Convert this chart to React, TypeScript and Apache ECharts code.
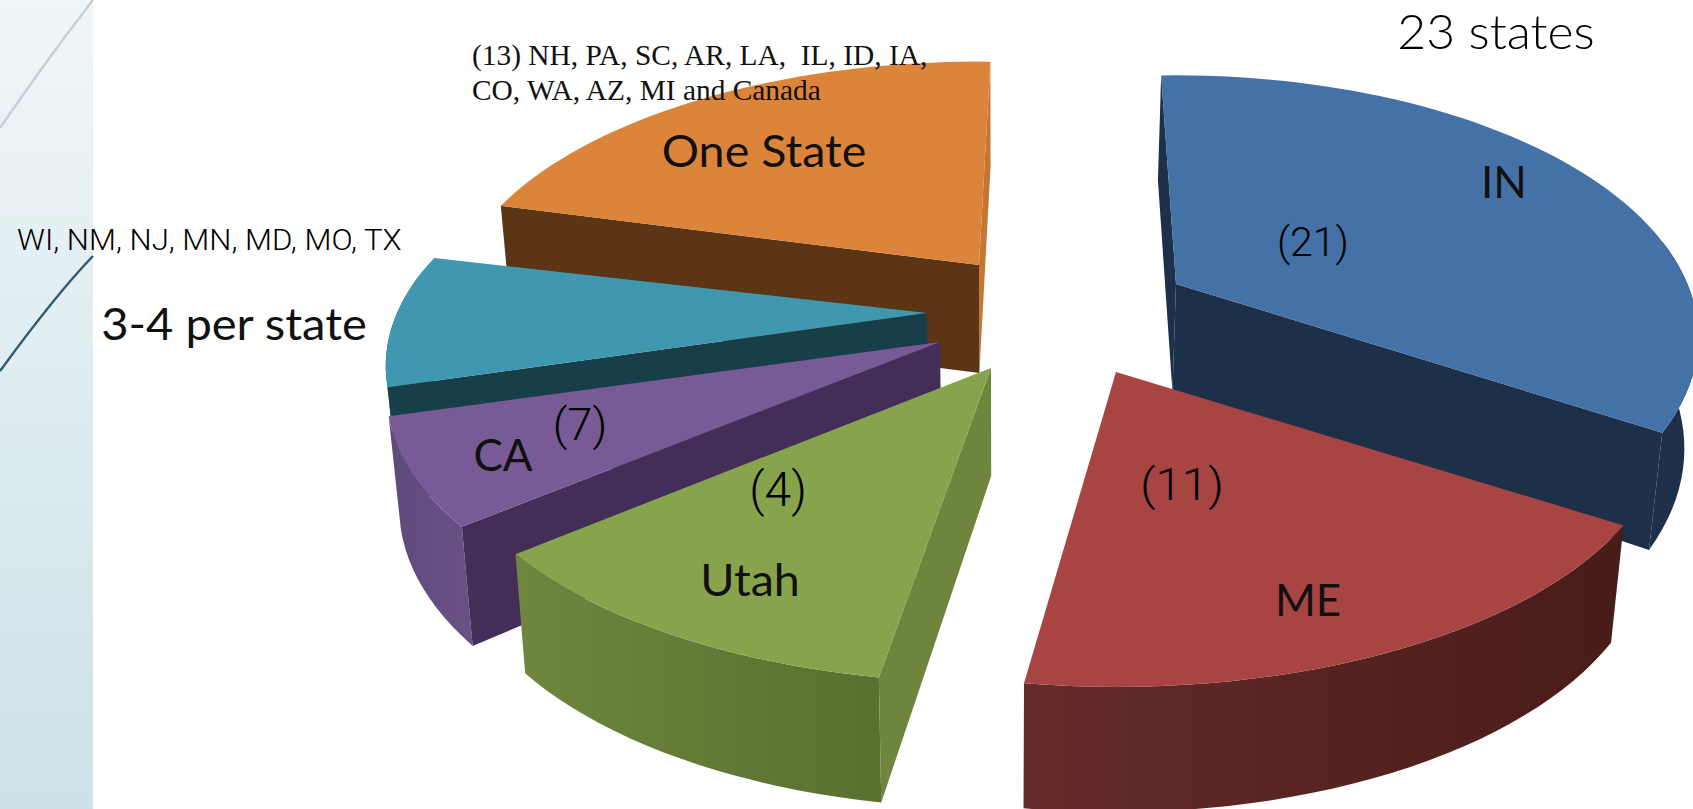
import React, { useEffect, useRef } from "react";
import * as echarts from "echarts";

// Data: slice sizes
const sliceNames = ["IN", "ME", "Utah", "CA", "3-4 per state", "One State"];
const sliceValues = [21, 11, 7, 4, 5, 13];
const drawOrder = [5, 0, 4, 3, 1, 2];

// Styles and layout of the exploded slices
const apexes = [[1176, 284], [1116, 372], [991, 368], [940, 342], [927, 313], [979, 265]];
const angleNudge = [-2, -1, 0.7, 0, 0, 1.5];
const sweepNudge = [0, 0, -1, 0, 0, 0];
const stretchX = [0.965, 1.015, 1.02, 1.022, 1, 0.98];
const stretchY = [1, 1, 1, 1, 1, 0.97];
const topColors = ["#4471a6", "#a84543", "#87a44c", "#775a96", "#3f97b0", "#dd843b"];
const startColors = ["#1c304a", "#4a1c19", "#6d853d", "#432e5a", "#173f4a", "#5c3515"];
const endColors = ["#1c304a", "#4a1c19", "#5b6f32", "#4a3563", "#173f4a", "#c47632"];
const rimLeft = ["#1c304a", "#652b2a", "#6e863d", "#5f4a7c", "#2a6a7c", "#5c3515"];
const rimRight = ["#1c304a", "#481c18", "#59702f", "#6a5185", "#2a6a7c", "#5c3515"];

const R = 530;
const RT = 251;
const K = 0.203;
const DEPTH = 108;
const CENTER_X = 1000;
const START_ANGLE = -90;
const total = sliceValues.reduce((a, b) => a + b, 0);

function project(i: number, deg: number, r: number) {
  const a = (deg * Math.PI) / 180;
  const u = r * Math.cos(a) * stretchX[i];
  const v = r * Math.sin(a) * stretchY[i];
  const s = 1 / (1 - K * v);
  return { x: apexes[i][0] + R * u * s, y: apexes[i][1] + RT * v * s, v };
}
function lower(p: { x: number; y: number; v: number }) {
  const grow = p.v > 0 ? 0.16 * p.v : 0.03 * p.v;
  return [p.x + (CENTER_X - p.x) * 0.02, p.y + DEPTH * (1 + grow)];
}
function arc(i: number, a0: number, a1: number) {
  const out: any[] = [];
  const n = Math.max(2, Math.ceil(Math.abs(a1 - a0) / 2));
  for (let k = 0; k <= n; k++) out.push(project(i, a0 + ((a1 - a0) * k) / n, 1));
  return out;
}

function renderSlice(_: any, api: any) {
  const i = api.value(0);
  let before = 0;
  for (let j = 0; j < i; j++) before += sliceValues[j];
  const a0 = START_ANGLE + (before / total) * 360 + angleNudge[i];
  const a1 = a0 + (sliceValues[i] / total) * 360 + sweepNudge[i];
  const centre = project(i, 0, 0);
  const children: any[] = [];
  const poly = (points: number[][], fill: any) =>
    children.push({ type: "polygon", shape: { points }, style: { fill, stroke: null } });

  // outer rim
  const r0 = Math.max(a0, -10);
  const r1 = Math.min(a1, 190);
  if (r1 > r0) {
    const top = arc(i, r0, r1);
    const pts = top.map((p) => [p.x, p.y]).concat(top.slice().reverse().map(lower));
    poly(pts, new echarts.graphic.LinearGradient(0, 0, 1, 0, [
      { offset: 0, color: rimLeft[i] },
      { offset: 1, color: rimRight[i] },
    ]));
  }
  // cut faces
  const face = (deg: number, color: string) => {
    const e = project(i, deg, 1);
    poly([[centre.x, centre.y], [e.x, e.y], lower(e), lower(centre)], color);
  };
  if (Math.cos((a1 * Math.PI) / 180) > -0.05) face(a1, endColors[i]);
  if (Math.cos((a0 * Math.PI) / 180) < 0.05) face(a0, startColors[i]);
  // top
  const rimTop = arc(i, a0, a1).map((p) => [p.x, p.y]);
  poly([[centre.x, centre.y], ...rimTop], topColors[i]);
  return { type: "group", children };
}

const thin = "Roboto, 'Liberation Sans', sans-serif";
const chartFont = "Lato, 'Noto Sans', sans-serif";
const serif = "'Liberation Serif', serif";
const label = (text: string, x: number, y: number, size: number, font: string, extra: any = {}, scaleX = 1) => ({
  type: "text",
  x,
  y,
  scaleX,
  z: 100,
  silent: true,
  style: { text, fontSize: size, fontFamily: font, fill: "#111", textAlign: "center", textVerticalAlign: "middle", ...extra },
});
const light = { fontWeight: 300, fill: "#000" };

export default function App() {
  const ref = useRef<HTMLDivElement>(null);
  useEffect(() => {
    document.body.style.margin = "0";
    document.body.style.background = "#fff";
    const chart = echarts.init(ref.current!, null, { renderer: "svg" });
    chart.setOption({
      animation: false,
      backgroundColor: "#ffffff",
      graphic: {
        elements: [
          {
            type: "rect",
            z: -1,
            silent: true,
            shape: { x: 0, y: 0, width: 93, height: 809 },
            style: {
              fill: new echarts.graphic.LinearGradient(0, 0, 0, 1, [
                { offset: 0, color: "#eff6f8" },
                { offset: 1, color: "#cce1e8" },
              ]),
            },
          },
          {
            type: "bezierCurve",
            z: -1,
            silent: true,
            shape: { x1: 93, y1: 0, x2: 0, y2: 128, cpx1: 62, cpy1: 40, cpx2: 30, cpy2: 84 },
            style: { stroke: "#c3d3d9", lineWidth: 2.5, fill: null },
          },
          {
            type: "bezierCurve",
            z: -1,
            silent: true,
            shape: { x1: 93, y1: 256, x2: 0, y2: 371, cpx1: 62, cpy1: 288, cpx2: 30, cpy2: 330 },
            style: { stroke: "#2f5a72", lineWidth: 2.5, fill: null },
          },
          label("23 states", 1496, 31, 47, "Lato, sans-serif", light, 1.06),
          label("(21)", 1313, 242, 41, thin, light),
          label("(11)", 1182, 484, 45, thin, light, 1.06),
          label("(7)", 580, 425, 44, thin, light, 1.03),
          label("(4)", 778, 489, 48, thin, light),
          label("IN", 1504, 181, 44, chartFont),
          label("ME", 1308, 599, 44, chartFont),
          label("Utah", 750, 579, 44, chartFont, {}, 1.06),
          label("CA", 503, 454, 44, chartFont),
          label("One State", 764, 150, 44, chartFont, {}, 1.06),
          label("3-4 per state", 234, 323, 44, chartFont, {}, 1.07),
          label("(13) NH, PA, SC, AR, LA,  IL, ID, IA,", 472, 55, 29.4, serif, { textAlign: "left" }),
          label("CO, WA, AZ, MI and Canada", 472, 90, 29.4, serif, { textAlign: "left" }),
          label("WI, NM, NJ, MN, MD, MO, TX", 17, 240, 29, thin, { ...light, textAlign: "left" }, 1.075),
        ],
      },
      series: [
        {
          type: "custom",
          coordinateSystem: "none",
          silent: true,
          clip: false,
          renderItem: renderSlice,
          data: drawOrder.map((i) => ({ name: sliceNames[i], value: [i, sliceValues[i]] })),
        },
      ],
    });
    return () => chart.dispose();
  }, []);
  return <div ref={ref} style={{ position: "fixed", left: 0, top: 0, width: 1693, height: 809 }} />;
}
